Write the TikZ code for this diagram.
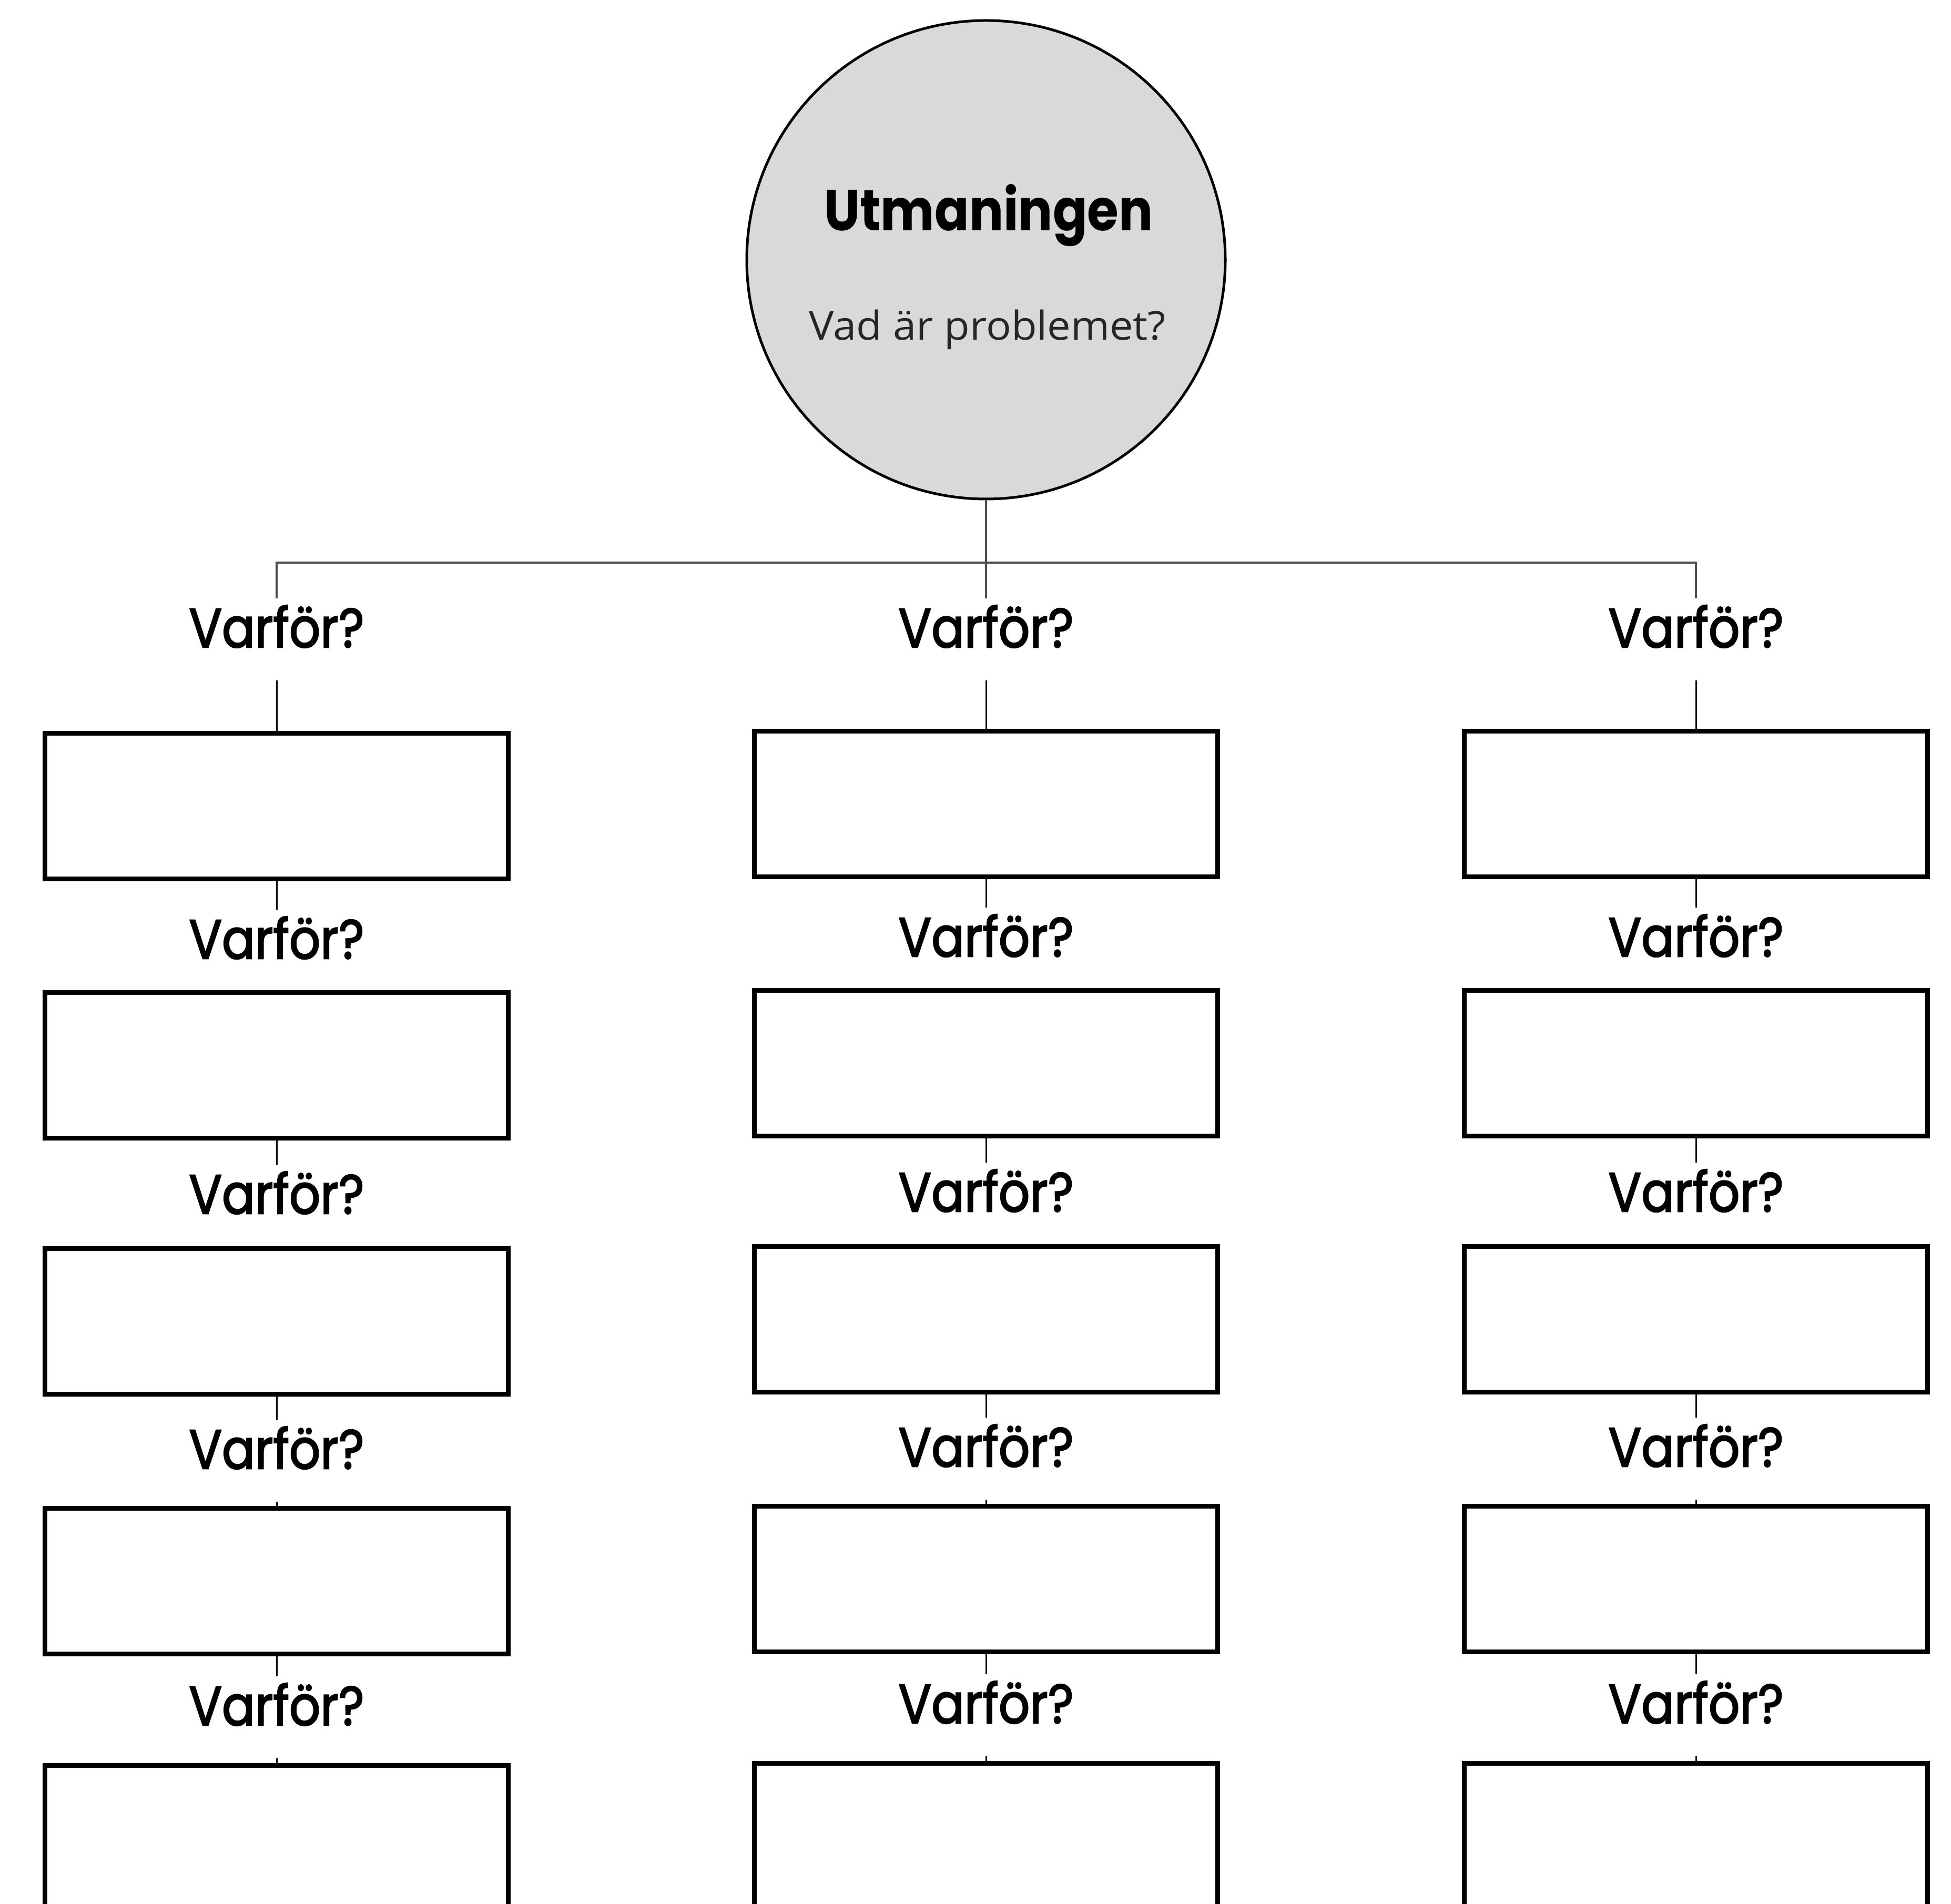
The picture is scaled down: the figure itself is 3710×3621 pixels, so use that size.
\documentclass[tikz,border=0pt]{standalone}
\usepackage{fontspec}
\setmainfont{Open Sans}
\newfontfamily\popfont{Poppins}
\newfontfamily\popvar{Poppins}[FakeBold=2.5]
\definecolor{cfill}{HTML}{D9D9D9}
\begin{document}
\begin{tikzpicture}[x=0.2pt,y=-0.2pt,
  box/.style={draw=black,line width=1.8pt,minimum width=176.2pt,minimum height=55.4pt,inner sep=0pt,fill=white},
  why/.style={inner sep=0pt,text height=18.4pt,text depth=12.4pt,anchor=base},
  conn/.style={line width=0.6pt,black},
  barline/.style={line width=0.7pt,black!70}
]
\clip (0,0) rectangle (3710,3621);
\fill[white] (0,0) rectangle (3710,3621);

% challenge circle
\node[circle,draw=black,line width=1pt,fill=cfill,minimum size=182pt,inner sep=0pt] (circ) at (1875,494) {};
\node[anchor=base,inner sep=0pt] (title) at (1880,439) {\resizebox{125pt}{17.6pt}{\popfont\bfseries Utmaningen}};
\node[anchor=base,inner sep=0pt,text=black!85] (sub) at (1878,647) {\resizebox{135.6pt}{11.5pt}{Vad är problemet?}};

% boxes and labels
\foreach \c/\x/\dy in {L/526/4, M/1875/0, R/3225/0}{
  \foreach \r/\t in {1/1386,2/1879,3/2366,4/2860,5/3349}{
    \node[box] (b\c\r) at (\x,{\t+143+\dy}) {};
  }
  \node[why] (w\c1) at (\x,1231) {\resizebox{66.6pt}{16pt}{\popvar Varför?}};
  \foreach \r/\t in {2/1819,3/2304,4/2789,5/3277}{
    \node[why] (w\c\r) at (\x,{\t+\dy}) {\resizebox{66.6pt}{16pt}{\popvar Varför?}};
  }
}

% connectors
\coordinate (bar) at (1875,1070);
\draw[barline] (circ.south) -- (bar);
\draw[barline] (wL1.north) |- (bar) -| (wR1.north);
\draw[barline] (bar) -- (wM1.north);
\foreach \c in {L,M,R}{
  \draw[conn] (w\c1.south) -- (b\c1.north);
  \foreach \r [evaluate=\r as \p using int(\r-1)] in {2,3,4,5}{
    \draw[conn] (b\c\p.south) -- (w\c\r.north);
    \draw[conn] (w\c\r.south) -- (b\c\r.north);
  }
}
\end{tikzpicture}
\end{document}
